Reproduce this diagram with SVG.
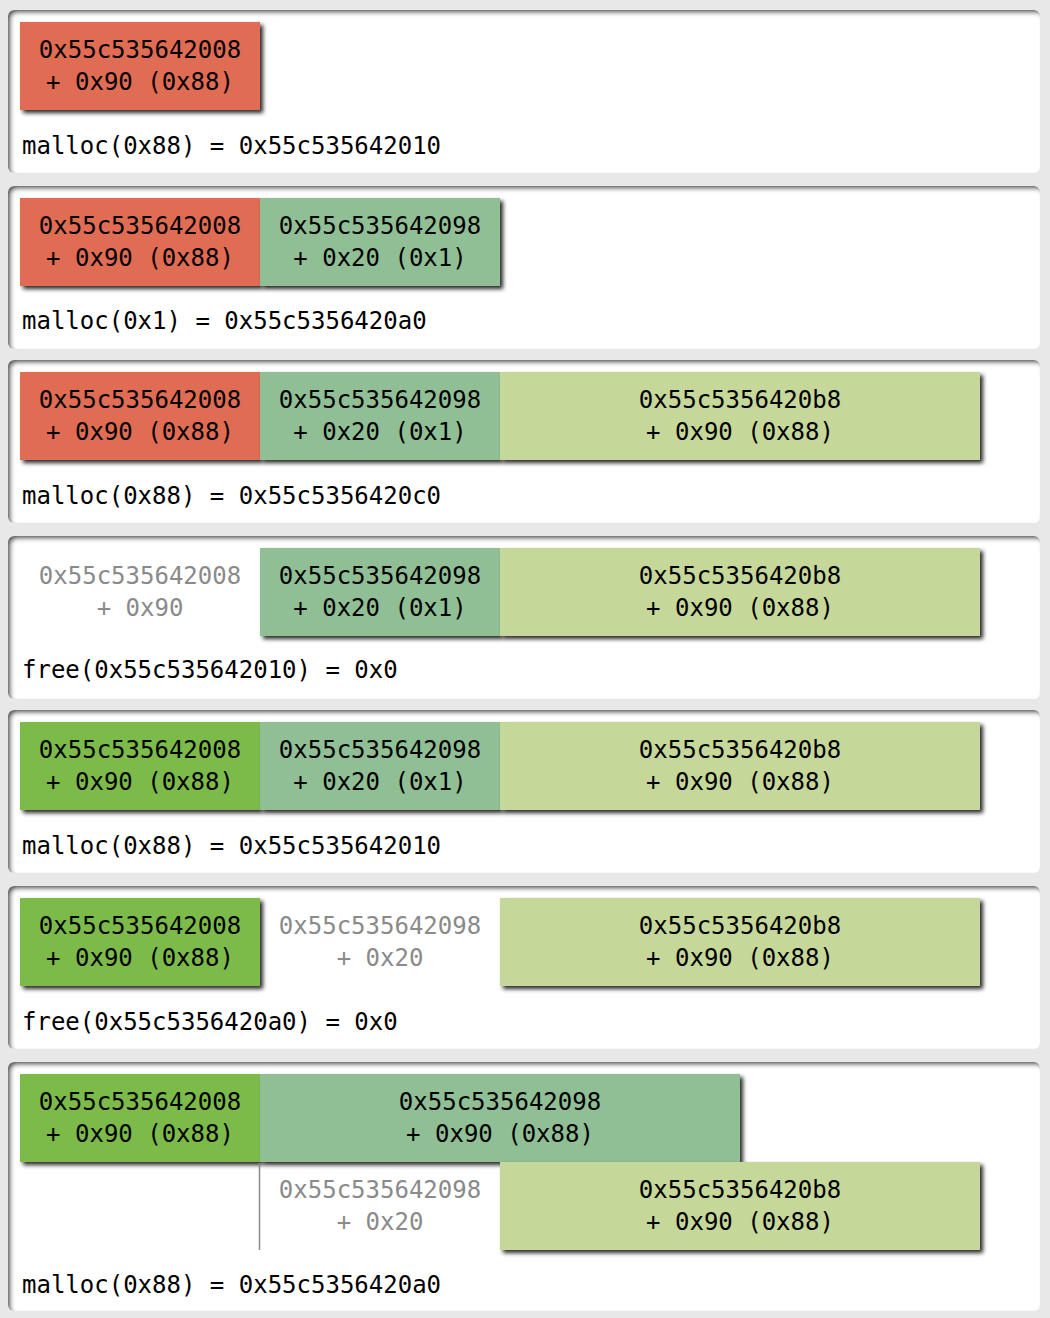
<svg xmlns="http://www.w3.org/2000/svg" width="1050" height="1318" viewBox="0 0 1050 1318">
<defs>
<filter id="inset" x="-2%" y="-8%" width="104%" height="116%">
<feFlood flood-color="#000" flood-opacity="0.9" result="f"/>
<feComposite in="f" in2="SourceAlpha" operator="out" result="outside"/>
<feOffset in="outside" dx="3" dy="3" result="off"/>
<feGaussianBlur in="off" stdDeviation="2" result="blur"/>
<feComposite in="blur" in2="SourceAlpha" operator="in" result="inner"/>
<feMerge><feMergeNode in="SourceGraphic"/><feMergeNode in="inner"/></feMerge>
</filter>
<filter id="drop" x="-5%" y="-10%" width="115%" height="130%">
<feGaussianBlur in="SourceAlpha" stdDeviation="2.2"/>
<feOffset dx="3" dy="3" result="b"/>
<feComponentTransfer in="b" result="s"><feFuncA type="linear" slope="0.85"/></feComponentTransfer>
<feMerge><feMergeNode in="s"/><feMergeNode in="SourceGraphic"/></feMerge>
</filter>
</defs>
<style>
.panel{fill:#fff;filter:url(#inset)}
.box{filter:url(#drop)}
.red{fill:#e06c52}
.teal{fill:#90bf95}
.lg{fill:#c6d79a}
.bg{fill:#7cbb4a}
text{font-family:"DejaVu Sans Mono","Liberation Mono",monospace;font-size:24px;fill:#000}
.c{text-anchor:middle}
.free{fill:#8a8a8a}
</style>
<rect width="1050" height="1318" fill="#e8e8e8"/>

<g id="panel1">
<rect class="panel" x="8" y="10" width="1032" height="163" rx="6"/>
<g id="p1-chunk1"><rect class="box red" x="20" y="22" width="240" height="88"/>
<text class="c" x="140" y="58">0x55c535642008</text><text class="c" x="140" y="90">+ 0x90 (0x88)</text></g>
<text x="22" y="154">malloc(0x88) = 0x55c535642010</text>
</g>

<g id="panel2">
<rect class="panel" x="8" y="186" width="1032" height="163" rx="6"/>
<g id="p2-chunk1"><rect class="box red" x="20" y="198" width="240" height="88"/>
<text class="c" x="140" y="234">0x55c535642008</text><text class="c" x="140" y="266">+ 0x90 (0x88)</text></g>
<g id="p2-chunk2"><rect class="box teal" x="260" y="198" width="240" height="88"/>
<text class="c" x="380" y="234">0x55c535642098</text><text class="c" x="380" y="266">+ 0x20 (0x1)</text></g>
<text x="22" y="329">malloc(0x1) = 0x55c5356420a0</text>
</g>

<g id="panel3">
<rect class="panel" x="8" y="360" width="1032" height="163" rx="6"/>
<g id="p3-chunk1"><rect class="box red" x="20" y="372" width="240" height="88"/>
<text class="c" x="140" y="408">0x55c535642008</text><text class="c" x="140" y="440">+ 0x90 (0x88)</text></g>
<g id="p3-chunk2"><rect class="box teal" x="260" y="372" width="240" height="88"/>
<text class="c" x="380" y="408">0x55c535642098</text><text class="c" x="380" y="440">+ 0x20 (0x1)</text></g>
<g id="p3-chunk3"><rect class="box lg" x="500" y="372" width="480" height="88"/>
<text class="c" x="740" y="408">0x55c5356420b8</text><text class="c" x="740" y="440">+ 0x90 (0x88)</text></g>
<text x="22" y="504">malloc(0x88) = 0x55c5356420c0</text>
</g>

<g id="panel4">
<rect class="panel" x="8" y="536" width="1032" height="163" rx="6"/>
<g id="p4-chunk1"><text class="c free" x="140" y="584">0x55c535642008</text><text class="c free" x="140" y="616">+ 0x90</text></g>
<g id="p4-chunk2"><rect class="box teal" x="260" y="548" width="240" height="88"/>
<text class="c" x="380" y="584">0x55c535642098</text><text class="c" x="380" y="616">+ 0x20 (0x1)</text></g>
<g id="p4-chunk3"><rect class="box lg" x="500" y="548" width="480" height="88"/>
<text class="c" x="740" y="584">0x55c5356420b8</text><text class="c" x="740" y="616">+ 0x90 (0x88)</text></g>
<text x="22" y="678">free(0x55c535642010) = 0x0</text>
</g>

<g id="panel5">
<rect class="panel" x="8" y="710" width="1032" height="163" rx="6"/>
<g id="p5-chunk1"><rect class="box bg" x="20" y="722" width="240" height="88"/>
<text class="c" x="140" y="758">0x55c535642008</text><text class="c" x="140" y="790">+ 0x90 (0x88)</text></g>
<g id="p5-chunk2"><rect class="box teal" x="260" y="722" width="240" height="88"/>
<text class="c" x="380" y="758">0x55c535642098</text><text class="c" x="380" y="790">+ 0x20 (0x1)</text></g>
<g id="p5-chunk3"><rect class="box lg" x="500" y="722" width="480" height="88"/>
<text class="c" x="740" y="758">0x55c5356420b8</text><text class="c" x="740" y="790">+ 0x90 (0x88)</text></g>
<text x="22" y="854">malloc(0x88) = 0x55c535642010</text>
</g>

<g id="panel6">
<rect class="panel" x="8" y="886" width="1032" height="163" rx="6"/>
<g id="p6-chunk1"><rect class="box bg" x="20" y="898" width="240" height="88"/>
<text class="c" x="140" y="934">0x55c535642008</text><text class="c" x="140" y="966">+ 0x90 (0x88)</text></g>
<g id="p6-chunk2"><text class="c free" x="380" y="934">0x55c535642098</text><text class="c free" x="380" y="966">+ 0x20</text></g>
<g id="p6-chunk3"><rect class="box lg" x="500" y="898" width="480" height="88"/>
<text class="c" x="740" y="934">0x55c5356420b8</text><text class="c" x="740" y="966">+ 0x90 (0x88)</text></g>
<text x="22" y="1030">free(0x55c5356420a0) = 0x0</text>
</g>

<g id="panel7">
<rect class="panel" x="8" y="1062" width="1032" height="249" rx="6"/>
<g id="p7-chunk1"><rect class="box bg" x="20" y="1074" width="240" height="88"/>
<text class="c" x="140" y="1110">0x55c535642008</text><text class="c" x="140" y="1142">+ 0x90 (0x88)</text></g>
<g id="p7-chunk2"><rect class="box teal" x="260" y="1074" width="480" height="88"/>
<text class="c" x="500" y="1110">0x55c535642098</text><text class="c" x="500" y="1142">+ 0x90 (0x88)</text></g>
<g id="p7-chunk2-old"><text class="c free" x="380" y="1198">0x55c535642098</text><text class="c free" x="380" y="1230">+ 0x20</text></g>
<g id="p7-chunk3"><rect class="box lg" x="500" y="1162" width="480" height="88"/>
<text class="c" x="740" y="1198">0x55c5356420b8</text><text class="c" x="740" y="1230">+ 0x90 (0x88)</text></g>
<text x="22" y="1293">malloc(0x88) = 0x55c5356420a0</text>
</g>

<g id="connectors">
<line x1="259.5" y1="1163" x2="259.5" y2="1250" stroke="#8a8a8a" stroke-width="1.5"/>
</g>
</svg>
